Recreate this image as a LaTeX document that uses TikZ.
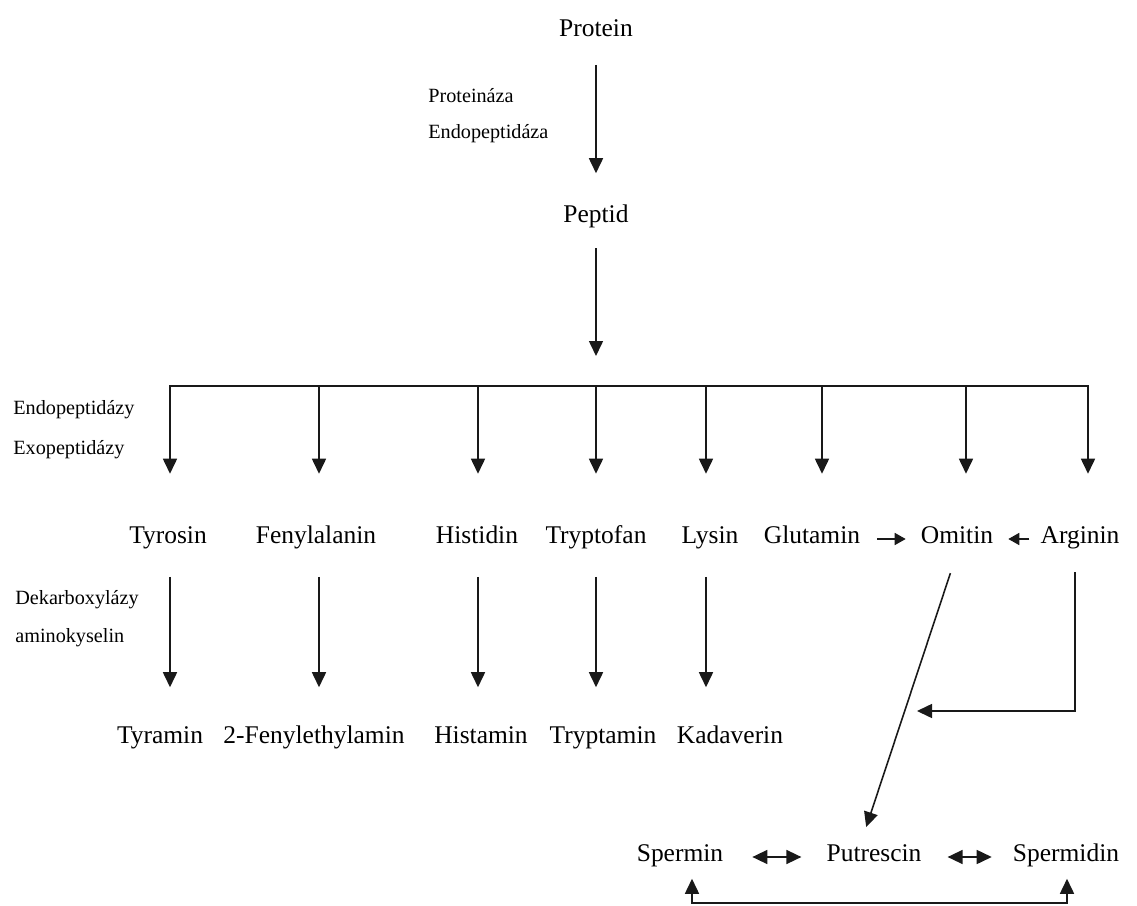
\documentclass[tikz,border=0pt]{standalone}
\usepackage{fontspec}
\setmainfont{Liberation Serif}
\usetikzlibrary{arrows.meta}

\begin{document}
\begin{tikzpicture}[x=0.02cm, y=-0.02cm,
    compound/.style={font=\fontsize{14.5}{17}\selectfont, text height=1.55ex, text depth=0.45ex, yshift=-0.08cm},
    enzyme/.style={anchor=west, inner sep=0pt, font=\fontsize{11.5}{13}\selectfont},
    link/.style={line width=0.9pt, black!90},
    arr/.style={link, -{Triangle[width=0.28cm,length=0.3cm]}},
    twoway/.style={link, {Triangle[width=0.28cm,length=0.3cm]}-{Triangle[width=0.28cm,length=0.3cm]}},
    short/.style={link, -{Triangle[width=0.24cm,length=0.22cm]}}]
    \useasboundingbox (0,0) rectangle (1137,906);

    % Protein and peptide
    \node[compound] (protein) at (596,28) {Protein};
    \node[compound] (peptid) at (596,214) {Peptid};

    % Amino acids
    \foreach \name/\x/\txt in {tyrosin/168/Tyrosin, fenylalanin/316/Fenylalanin,
        histidin/477/Histidin, tryptofan/596/Tryptofan, lysin/710/Lysin,
        glutamin/812/Glutamin, omitin/957/Omitin, arginin/1080/Arginin} {
        \node[compound] (\name) at (\x,535) {\txt};
    }

    % Biogenic amines
    \foreach \name/\x/\txt in {tyramin/160/Tyramin, fenylethylamin/314/2-Fenylethylamin,
        histamin/481/Histamin, tryptamin/603/Tryptamin, kadaverin/730/Kadaverin} {
        \node[compound] (\name) at (\x,735) {\txt};
    }

    % Polyamines
    \node[compound] (spermin) at (680,853) {Spermin};
    \node[compound] (putrescin) at (874,853) {Putrescin};
    \node[compound] (spermidin) at (1066,853) {Spermidin};

    % Enzyme labels
    \node[enzyme] (proteinaza) at (428,96) {Proteináza};
    \node[enzyme] (endopeptidaza) at (428,134) {Endopeptidáza};
    \node[enzyme] (endopeptidazy) at (13,410) {Endopeptidázy};
    \node[enzyme] (exopeptidazy) at (13,450) {Exopeptidázy};
    \node[enzyme] (dekarboxylazy) at (15,600) {Dekarboxylázy};
    \node[enzyme] (aminokyselin) at (15,638) {aminokyselin};

    % Protein -> peptide -> split
    \coordinate (split) at (596,356);
    \coordinate (barL) at (170,386);
    \coordinate (barR) at (1088,386);
    \draw[arr, shorten <=0.37cm, shorten >=0.61cm] (protein) -- (peptid);
    \draw[arr, shorten <=0.32cm] (peptid) -- (split);
    \draw[link, line cap=rect] (barL) -- (barR);

    % Drops to the amino acids
    \foreach \name/\dx in {tyrosin/2, fenylalanin/3, histidin/1, tryptofan/0,
        lysin/-4, glutamin/10, omitin/9, arginin/8} {
        \draw[arr, shorten >=1.02cm] ([xshift=\dx*0.02cm]\name.north |- barL)
            -- ([xshift=\dx*0.02cm]\name.north);
    }

    % Decarboxylation
    \foreach \from/\to/\dx in {tyrosin/tyramin/2, fenylalanin/fenylethylamin/3,
        histidin/histamin/1, tryptofan/tryptamin/0, lysin/kadaverin/-4} {
        \draw[arr, shorten <=0.47cm, shorten >=0.75cm] ([xshift=\dx*0.02cm]\from.south)
            -- ([xshift=\dx*0.02cm]\from.south |- \to.north);
    }

    % Ornithine pathway
    \draw[short, shorten <=0.22cm, shorten >=0.18cm] (glutamin) -- (omitin);
    \draw[short, shorten <=0.1cm, shorten >=0.18cm] (arginin) -- (omitin);
    \coordinate (merge) at (917,711);
    \draw[arr, shorten <=0.38cm] ([xshift=-0.1cm]arginin.south) |- (merge);
    \draw[arr, shorten <=0.42cm, shorten >=0.33cm] (omitin.south) -- ([xshift=-0.26cm]putrescin.north);

    % Polyamine interconversion
    \draw[twoway, shorten <=0.46cm, shorten >=0.38cm] (spermin) -- (putrescin);
    \draw[twoway, shorten <=0.4cm, shorten >=0.3cm] (putrescin) -- (spermidin);
    \coordinate (loopL) at (692,903);
    \coordinate (loopR) at (1067,903);
    \draw[twoway, shorten <=0.15cm, shorten >=0.15cm] (spermin.south -| loopL)
        -- (loopL) -- (loopR) -- (spermidin.south -| loopR);
\end{tikzpicture}
\end{document}
